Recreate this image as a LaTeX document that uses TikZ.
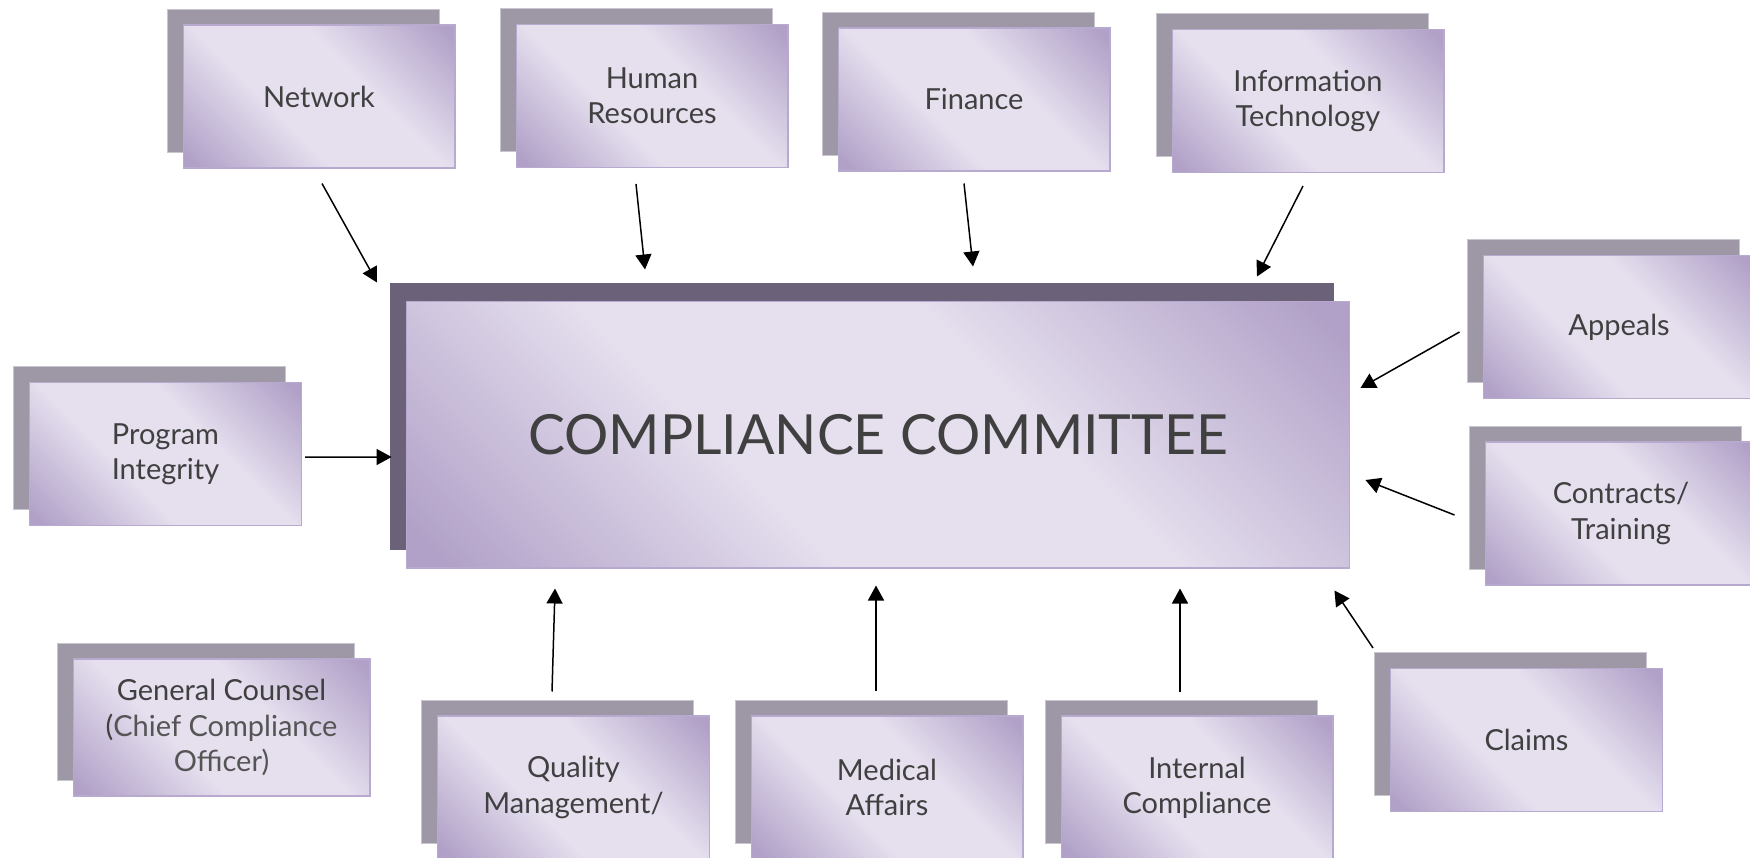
\documentclass[tikz,border=0pt]{standalone}
\usepackage{fontspec}
\setmainfont{Lato}
\usepackage{xcolor}
\usetikzlibrary{arrows.meta, calc, shadows}
\definecolor{pLight}{HTML}{E5DFEE}
\definecolor{pDark}{HTML}{B1A1C8}
\definecolor{boxedge}{HTML}{B8A9CF}
\definecolor{backgray}{HTML}{9D97A6}
\definecolor{backedge}{HTML}{C9C5CF}
\definecolor{hubgray}{HTML}{6B6279}
\definecolor{textgray}{HTML}{404040}
\definecolor{softtext}{HTML}{555555}
\pgfdeclareverticalshading{panelshade}{100bp}{%
  color(0bp)=(pDark); color(17bp)=(pDark); color(40bp)=(pLight);
  color(60bp)=(pLight); color(83bp)=(pDark); color(100bp)=(pDark)}

\begin{document}
\begin{tikzpicture}[
    x=0.02cm, y=-0.02cm,
    >={Triangle[length=3mm,width=3.2mm]},
    every node/.style={inner sep=2pt},
    panel/.style={draw=boxedge, line width=0.6pt,
                  shade, shading=panelshade, shading angle=-45,
                  align=center, text=textgray,
                  font=\fontsize{16.5}{20}\selectfont},
    unit/.style={panel, minimum width=5.44cm, minimum height=2.86cm,
                 general shadow={fill=backgray, draw=backedge, line width=0.4pt,
                                 shadow xshift=-0.32cm, shadow yshift=0.32cm}},
    hub/.style={panel, minimum width=18.88cm, minimum height=5.34cm,
                font=\fontsize{31.5}{36}\selectfont,
                general shadow={fill=hubgray,
                                shadow xshift=-0.32cm, shadow yshift=0.36cm}},
    flow/.style={->, line width=0.85pt, draw=black}
  ]
  \path[use as bounding box, clip] (0,0) rectangle (1750,858);

  % ===== CENTRE =====
  \node[hub] (cc) at (878,434.5) {COMPLIANCE COMMITTEE};

  % ===== TOP ROW =====
  \node[unit] (net)  at (319,96.5)  {Network};
  \node[unit] (hr)   at (652,96)    {Human\\Resources};
  \node[unit] (fin)  at (974,99.5)  {Finance};
  \node[unit] (it)   at (1308,101)  {Information\\Technology};

  % ===== LEFT SIDE =====
  \node[unit] (prog) at (165.5,454) {Program\\Integrity};
  \node[unit, minimum width=5.94cm, minimum height=2.74cm] (gc) at (221.5,727.5)
    {General Counsel\\(\textcolor{softtext}{Chief Compliance}\\\textcolor{softtext}{Officer)}};

  % ===== RIGHT SIDE =====
  \node[unit] (app)  at (1619,327)   {Appeals};
  \node[unit] (con)  at (1621,513.5) {Contracts/\\Training};
  \node[unit] (clm)  at (1526.5,740) {Claims};

  % ===== BOTTOM ROW =====
  \node[unit] (qm)   at (573.5,787.5) {Quality\\Management/};
  \node[unit] (med)  at (887,787.5)   {Medical\\Affairs};
  \node[unit] (ic)   at (1197,787.5)  {Internal\\Compliance};

  % ===== FLOWS INTO THE COMMITTEE =====
  \draw[flow] ($(net.south)+(3,15)$)   -- ($(cc.north)+(-501,-18)$);
  \draw[flow] ($(hr.south)+(-16,16)$)  -- ($(cc.north)+(-233,-31)$);
  \draw[flow] ($(fin.south)+(-10,12)$) -- ($(cc.north)+(95,-34)$);
  \draw[flow] ($(it.south)+(-5,13)$)   -- ($(cc.north)+(379,-24)$);

  \draw[flow] ($(prog.east)+(3,3)$)    -- ($(cc.west)+(-14,22.5)$);

  \draw[flow] ($(app.west)+(-23,5)$)   -- ($(cc.east)+(10,-46.5)$);
  \draw[flow] ($(con.west)+(-30,1.5)$) -- ($(cc.east)+(15,45.5)$);
  \draw[flow] ($(clm.north west)+(-17,-20)$) -- ($(cc.south east)+(-16,22)$);

  \draw[flow] ($(qm.north)+(-21.5,-24)$) -- ($(cc.south)+(-323,20)$);
  \draw[flow] ($(med.north)+(-11,-24)$)  -- ($(cc.south)+(-2,17)$);
  \draw[flow] ($(ic.north)+(-17,-23)$)   -- ($(cc.south)+(302,20)$);

\end{tikzpicture}
\end{document}
